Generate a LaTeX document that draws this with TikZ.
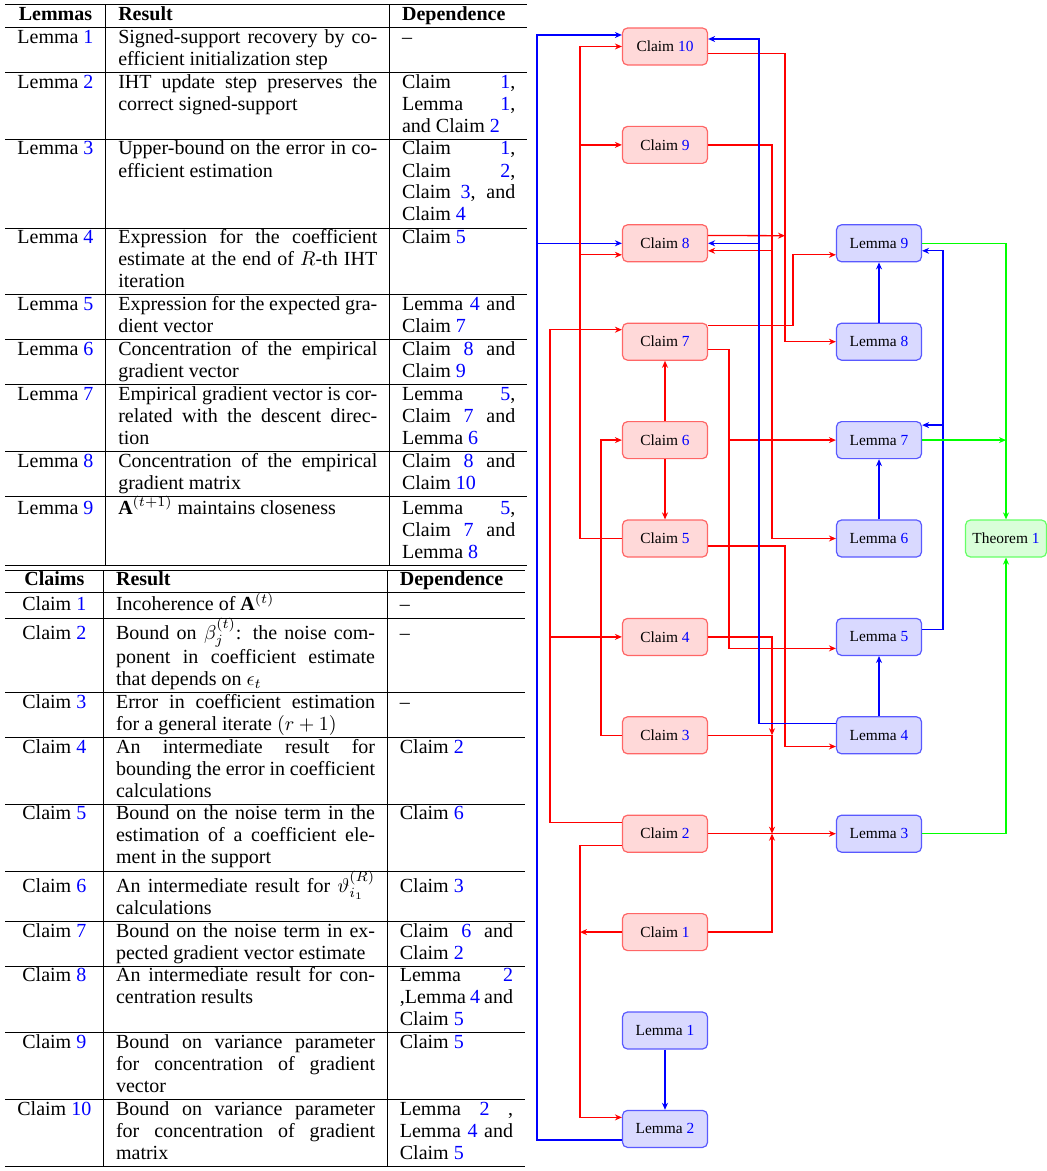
\documentclass[tikz,border=0pt]{standalone}
\usepackage{fontspec}
\setmainfont{Liberation Serif}
\usepackage{xcolor}
\usepackage{array}
\usepackage{tikz}
\usetikzlibrary{arrows.meta, positioning, calc}
\newcommand{\refnum}[1]{\textcolor{blue}{#1}}
\tikzset{
  claimbox/.style={
    rectangle,
    rounded corners=2.5pt,
    minimum width=42.5pt,
    minimum height=18.5pt,
    inner sep=1pt,
    draw=red!60,
    fill=red!15,
    line width=0.6pt,
    font=\fontsize{7.7}{9}\selectfont
  },
  lemmabox/.style={
    claimbox,
    draw=blue!65,
    fill=blue!15
  },
  thmbox/.style={
    claimbox,
    minimum width=40.5pt,
    draw=green!60,
    fill=green!15
  },
  redline/.style={
    line width=0.65pt,
    -{Stealth[length=3.5pt,width=3pt]},
    red
  },
  blueline/.style={
    line width=0.65pt,
    -{Stealth[length=3.5pt,width=3pt]},
    blue
  },
  greenline/.style={
    line width=0.65pt,
    -{Stealth[length=3.5pt,width=3pt]},
    green
  },
  tablebox/.style={
    anchor=north west,
    inner sep=0pt,
    font=\fontsize{10}{11}\selectfont
  }
}
\begin{document}
\begin{tikzpicture}[x=0.5pt, y=-0.5pt]
  \useasboundingbox (0,0) rectangle (1047,1171);

  % Tables
  \node (tabL) [tablebox] at (5,4) {%
  \begin{tabular}{c|p{129.5pt}|p{56.6pt}}
  \hline
  \textbf{Lemmas} & \textbf{Result} & \textbf{Dependence} \\ \hline
  Lemma \refnum{1} & Signed-support recovery by co-\linebreak efficient initialization step & -- \\ \hline
  Lemma \refnum{2} & IHT update step preserves the\linebreak correct signed-support & Claim \refnum{1},\linebreak Lemma \refnum{1},\linebreak and Claim \refnum{2} \\ \hline
  Lemma \refnum{3} & Upper-bound on the error in co-\linebreak efficient estimation & Claim \refnum{1},\linebreak Claim \refnum{2},\linebreak Claim \refnum{3}, and\linebreak Claim \refnum{4} \\ \hline
  Lemma \refnum{4} & Expression for the coefficient\linebreak estimate at the end of $R$-th IHT\linebreak iteration & Claim \refnum{5} \\ \hline
  Lemma \refnum{5} & Expression for the expected gra-\linebreak dient vector & Lemma \refnum{4} and\linebreak Claim \refnum{7} \\ \hline
  Lemma \refnum{6} & Concentration of the empirical\linebreak gradient vector & Claim \refnum{8} and\linebreak Claim \refnum{9} \\ \hline
  Lemma \refnum{7} & Empirical gradient vector is cor-\linebreak related with the descent direc-\linebreak tion & Lemma \refnum{5},\linebreak Claim \refnum{7} and\linebreak Lemma \refnum{6} \\ \hline
  Lemma \refnum{8} & Concentration of the empirical\linebreak gradient matrix & Claim \refnum{8} and\linebreak Claim \refnum{10} \\ \hline
  Lemma \refnum{9} & $\mathbf{A}^{(t+1)}$ maintains closeness & Lemma \refnum{5},\linebreak Claim \refnum{7} and\linebreak Lemma \refnum{8} \\ \hline
  \end{tabular}};
  \node (tabC) [tablebox] at ([yshift=-1.6pt]tabL.south west) {%
  \begin{tabular}{c|p{129.5pt}|p{56.6pt}}
  \hline
  \textbf{Claims} & \textbf{Result} & \textbf{Dependence} \\ \hline
  Claim \refnum{1} & Incoherence of $\mathbf{A}^{(t)}$ & -- \\ \hline
  Claim \refnum{2} & Bound on $\beta_j^{(t)}$: the noise com-\linebreak ponent in coefficient estimate\linebreak that depends on $\epsilon_t$ & -- \\ \hline
  Claim \refnum{3} & Error in coefficient estimation\linebreak for a general iterate $(r+1)$ & -- \\ \hline
  Claim \refnum{4} & An intermediate result for\linebreak bounding the error in coefficient\linebreak calculations & Claim \refnum{2} \\ \hline
  Claim \refnum{5} & Bound on the noise term in the\linebreak estimation of a coefficient ele-\linebreak ment in the support & Claim \refnum{6} \\ \hline
  Claim \refnum{6} & An intermediate result for $\vartheta_{i_1}^{(R)}$\linebreak calculations & Claim \refnum{3} \\ \hline
  Claim \refnum{7} & Bound on the noise term in ex-\linebreak pected gradient vector estimate & Claim \refnum{6} and\linebreak Claim \refnum{2} \\ \hline
  Claim \refnum{8} & An intermediate result for con-\linebreak centration results & Lemma \refnum{2}\linebreak ,Lemma \refnum{4} and\linebreak Claim \refnum{5} \\ \hline
  Claim \refnum{9} & Bound on variance parameter\linebreak for concentration of gradient\linebreak vector & Claim \refnum{5} \\ \hline
  Claim \refnum{10} & Bound on variance parameter\linebreak for concentration of gradient\linebreak matrix & Lemma \refnum{2} ,\linebreak Lemma \refnum{4} and\linebreak Claim \refnum{5} \\ \hline
  \end{tabular}};

  % Claims
  \node (C10) [claimbox] at (665,46.5) {Claim \refnum{10}};
  \node (C9) [claimbox] at (665,144.9) {Claim \refnum{9}};
  \node (C8) [claimbox] at (665,243.3) {Claim \refnum{8}};
  \node (C7) [claimbox] at (665,341.7) {Claim \refnum{7}};
  \node (C6) [claimbox] at (665,440.1) {Claim \refnum{6}};
  \node (C5) [claimbox] at (665,538.5) {Claim \refnum{5}};
  \node (C4) [claimbox] at (665,636.9) {Claim \refnum{4}};
  \node (C3) [claimbox] at (665,735.3) {Claim \refnum{3}};
  \node (C2) [claimbox] at (665,833.7) {Claim \refnum{2}};
  \node (C1) [claimbox] at (665,932.1) {Claim \refnum{1}};

  % Lemmas
  \node (L1) [lemmabox] at (665,1030.5) {Lemma \refnum{1}};
  \node (L2) [lemmabox] at (665,1128.9) {Lemma \refnum{2}};
  \node (L9) [lemmabox] at (879,243.3) {Lemma \refnum{9}};
  \node (L8) [lemmabox] at (879,341.7) {Lemma \refnum{8}};
  \node (L7) [lemmabox] at (879,440.1) {Lemma \refnum{7}};
  \node (L6) [lemmabox] at (879,538.5) {Lemma \refnum{6}};
  \node (L5) [lemmabox] at (879,636.9) {Lemma \refnum{5}};
  \node (L4) [lemmabox] at (879,735.3) {Lemma \refnum{4}};
  \node (L3) [lemmabox] at (879,833.7) {Lemma \refnum{3}};
  \node (T1) [thmbox] at (1006,538.5) {Theorem \refnum{1}};

  % Trunks
  \coordinate (tA) at (537,600);
  \coordinate (tB) at (550,700);
  \coordinate (tC) at (580,400);
  \coordinate (tCb) at (580,1000);
  \coordinate (tD) at (601,600);
  \coordinate (tE) at (729,400);
  \coordinate (tF) at (759,500);
  \coordinate (tG) at (772,200);
  \coordinate (tH) at (785,235.7);
  \coordinate (tHb) at (785,650);
  \coordinate (tI) at (793,300);
  \coordinate (tJ) at (943,500);

  % Left side
  \draw[blueline] ([yshift=-5.5pt]L2.west) -| (tA) |- ([yshift=5.75pt]C10.west);
  \draw[blueline] (C8.west -| tA) -- (C8.west);
  \draw[redline] ([yshift=5.75pt]C2.west) -| (tB) |- ([yshift=6pt]C7.west);
  \draw[redline] (C4.west -| tB) -- (C4.west);
  \draw[redline] (C5.west) -| (tC) |- (C10.west);
  \draw[redline] (C9.west -| tC) -- (C9.west);
  \draw[redline] ($(C8.west -| tC)+(0,11.5)$) -- ([yshift=-5.75pt]C8.west);
  \draw[redline] (C3.west) -| (tD) |- (C6.west);
  \draw[redline] ([yshift=-6pt]C2.west) -| (tCb) |- ([yshift=5.75pt]L2.west);
  \draw[redline] (C1.west) -- (C1.west -| tCb);

  % Straight up/down
  \draw[redline] (C6.north) -- (C7.south);
  \draw[redline] (C6.south) -- (C5.north);
  \draw[blueline] (L1.south) -- (L2.north);
  \draw[blueline] (L4.north) -- (L5.south);
  \draw[blueline] (L6.north) -- (L7.south);
  \draw[blueline] (L8.north) -- (L9.south);

  % Right side
  \draw[redline] ([yshift=-3.4pt]C10.east) -| (tH) |- (L8.west);
  \draw[redline] ([yshift=3.9pt]C8.east) -- (tH);
  \draw[redline] (C9.east) -| (tG) |- (L6.west);
  \draw[redline] ($(C8.east -| tG)+(0,7.5)$) -- ([yshift=-3.75pt]C8.east);
  \draw[redline] ([yshift=8pt]C7.east) -| (tI) |- ([yshift=-5.75pt]L9.west);
  \draw[redline] ([yshift=-3.75pt]C7.east) -| (tE) |- ([yshift=-5.75pt]L5.west);
  \draw[redline] (L7.west -| tE) -- (L7.west);
  \draw[redline] ([yshift=-3.75pt]C5.east) -| (tHb) |- ([yshift=-5.6pt]L4.west);
  \draw[redline] (C4.east) -| (C3.east -| tG);
  \draw[redline] (C3.east) -| (L3.west -| tG);
  \draw[redline] (C1.east) -| (L3.west -| tG);
  \draw[redline] (C2.east) -- (L3.west);
  \draw[blueline] ([yshift=6pt]L4.west) -| (tF) |- ([yshift=3.75pt]C10.east);
  \draw[blueline] (C8.east -| tF) -- (C8.east);
  \draw[blueline] ([yshift=3.75pt]L5.east) -| (tJ) |- ([yshift=-3.75pt]L9.east);
  \draw[blueline] ($(L7.east -| tJ)+(0,-15)$) -- ([yshift=7.5pt]L7.east);

  % Theorem
  \draw[greenline] (L9.east) -| (T1.north);
  \draw[greenline] (L7.east) -- (L7.east -| T1.north);
  \draw[greenline] (L3.east) -| (T1.south);

\end{tikzpicture}
\end{document}
